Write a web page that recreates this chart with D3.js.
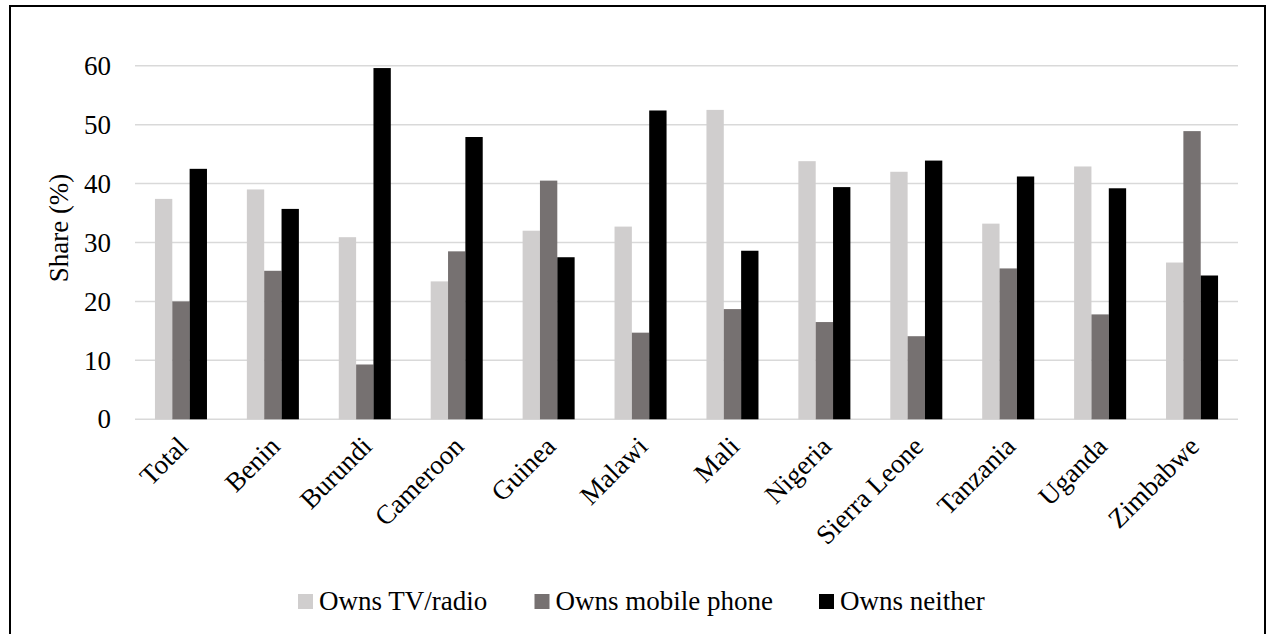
<!DOCTYPE html>
<html>
<head>
<meta charset="utf-8">
<script src="https://cdn.jsdelivr.net/npm/d3@7/dist/d3.min.js"></script>
<style>
  html, body { margin: 0; padding: 0; background: #fff; }
  svg { display: block; }
  svg text { font-family: "Times New Roman", "Liberation Serif", Tinos, "DejaVu Serif", serif !important; fill: #000; }
</style>
</head>
<body>
<svg id="chart" width="1269" height="634"></svg>
<script>
const categories = ["Total","Benin","Burundi","Cameroon","Guinea","Malawi","Mali","Nigeria","Sierra Leone","Tanzania","Uganda","Zimbabwe"];
const seriesNames = ["Owns TV/radio","Owns mobile phone","Owns neither"];
const tvRadio     = [37.4, 39.0, 30.9, 23.4, 32.0, 32.7, 52.5, 43.8, 42.0, 33.2, 42.9, 26.6];
const mobilePhone = [20.0, 25.2,  9.3, 28.5, 40.5, 14.7, 18.7, 16.5, 14.1, 25.6, 17.8, 48.9];
const neither     = [42.5, 35.7, 59.6, 47.9, 27.5, 52.4, 28.6, 39.4, 43.9, 41.2, 39.2, 24.4];
const yTicks = [0, 10, 20, 30, 40, 50, 60];
const colors = ["#d0cece", "#767171", "#000000"];

(function () {
const seriesValues = [tvRadio, mobilePhone, neither];
const svg = d3.select("#chart");
const FONT = '"Times New Roman", "Liberation Serif", Tinos, "DejaVu Serif", serif';

// outer frame
svg.append("rect").attr("x", 10).attr("y", 6).attr("width", 1255).attr("height", 640)
  .attr("fill", "none").attr("stroke", "#000").attr("stroke-width", 2);

const pLeft = 135, pRight = 1238, pTop = 65.7, pBottom = 419.3;

const x0 = d3.scaleBand().domain(categories).range([pLeft, pRight])
  .paddingInner(0.434).paddingOuter(0.217);
const x1 = d3.scaleBand().domain(seriesNames).range([0, x0.bandwidth()]).padding(0);
const y = d3.scaleLinear().domain([0, 60]).range([pBottom, pTop]);

// gridlines
svg.append("g").selectAll("line").data(yTicks).join("line")
  .attr("x1", pLeft).attr("x2", pRight)
  .attr("y1", d => y(d)).attr("y2", d => y(d))
  .attr("stroke", "#d9d9d9").attr("stroke-width", 1.5);

// y axis labels
const yAxis = d3.axisLeft(y).tickValues(yTicks).tickSize(0).tickPadding(0);
const yg = svg.append("g").attr("transform", `translate(111,0)`).call(yAxis)
  .attr("font-family", FONT).attr("font-size", 27);
yg.select(".domain").remove();
yg.selectAll("text").attr("fill", "#000");

// bars
const groups = svg.append("g").selectAll("g").data(categories).join("g")
  .attr("transform", d => `translate(${x0(d)},0)`);
groups.selectAll("rect")
  .data((c, i) => seriesNames.map((s, j) => ({ s, v: seriesValues[j][i], j })))
  .join("rect")
  .attr("x", d => x1(d.s))
  .attr("width", x1.bandwidth())
  .attr("y", d => y(d.v))
  .attr("height", d => y(0) - y(d.v))
  .attr("fill", d => colors[d.j]);

// x axis labels
const xAxis = d3.axisBottom(x0).tickSize(0).tickPadding(0);
const xg = svg.append("g").attr("transform", `translate(0,${pBottom})`).call(xAxis)
  .attr("font-family", FONT).attr("font-size", 27);
xg.select(".domain").remove();
xg.selectAll("text")
  .attr("fill", "#000")
  .attr("text-anchor", "end")
  .attr("transform", "translate(2,22) rotate(-45)")
  .attr("dy", "0.35em").attr("y", 0);

// y title
svg.append("text")
  .attr("transform", `translate(68,228) rotate(-90)`)
  .attr("text-anchor", "middle")
  .attr("font-family", FONT).attr("font-size", 27)
  .text("Share (%)");

// legend
const legendX = [298, 534.5, 819];
const lg = svg.append("g").selectAll("g").data(seriesNames).join("g")
  .attr("transform", (d, i) => `translate(${legendX[i]},594)`);
lg.append("rect").attr("width", 15).attr("height", 15).attr("fill", (d, i) => colors[i]);
lg.append("text").attr("x", 21).attr("y", 16)
  .attr("font-family", FONT).attr("font-size", 27).text(d => d);
})();
</script>
</body>
</html>
